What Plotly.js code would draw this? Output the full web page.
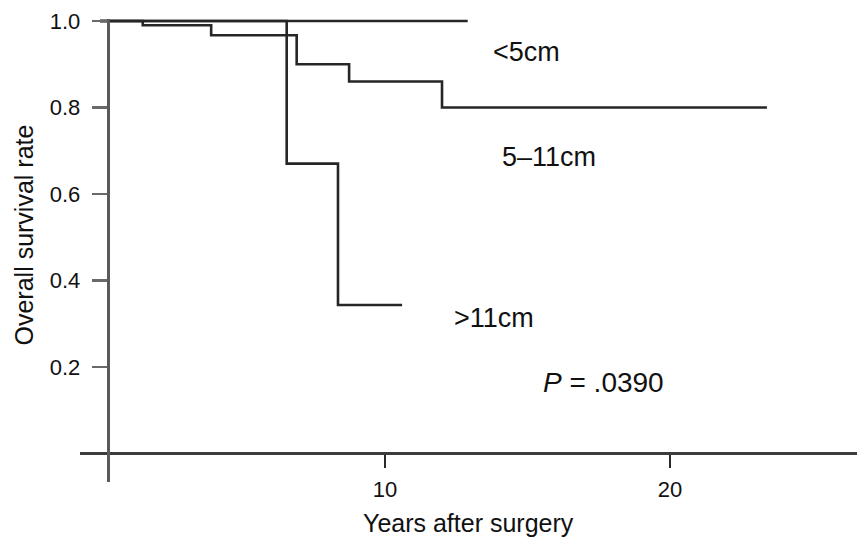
<!DOCTYPE html>
<html>
<head>
<meta charset="utf-8">
<script src="https://cdn.plot.ly/plotly-3.0.1.min.js"></script>
<style>html,body{margin:0;padding:0;background:#fff;}</style>
</head>
<body>
<div id="chart" style="width:857px;height:539px;"></div>
<script>
// Kaplan-Meier step data (years after surgery, overall survival rate)
var lt5_years = [0, 12.9];
var lt5_surv  = [1.0, 1.0];

var mid_years = [0, 1.5, 3.9, 6.9, 8.74, 12.0, 23.4];
var mid_surv  = [1.0, 0.99, 0.967, 0.90, 0.86, 0.80, 0.80];

var gt11_years = [0, 6.55, 8.35, 10.6];
var gt11_surv  = [1.0, 0.67, 0.343, 0.343];

var xTickVals = [10, 20];
var xTickText = ['10', '20'];
var yTickVals = [0.2, 0.4, 0.6, 0.8, 1.0];
var yTickText = ['0.2', '0.4', '0.6', '0.8', '1.0'];

var seriesLabels = ['<5cm', '5\u201311cm', '>11cm'];
var pText = '<i>P</i> = .0390';

var FONT = 'Liberation Sans, Arial, Helvetica, sans-serif';
var lineStyle = {color: '#262626', width: 2.6, shape: 'hv'};

var traces = [
  {x: lt5_years, y: lt5_surv, mode: 'lines', line: lineStyle, name: seriesLabels[0], hoverinfo: 'skip'},
  {x: mid_years, y: mid_surv, mode: 'lines', line: lineStyle, name: seriesLabels[1], hoverinfo: 'skip'},
  {x: gt11_years, y: gt11_surv, mode: 'lines', line: lineStyle, name: seriesLabels[2], hoverinfo: 'skip'}
];

var W = 857, H = 539;
var layout = {
  width: W, height: H,
  margin: {l: 0, r: 0, t: 0, b: 0, pad: 0},
  paper_bgcolor: '#fff', plot_bgcolor: '#fff',
  showlegend: false,
  font: {family: FONT, color: '#111'},
  xaxis: {
    domain: [80 / W, 1],
    range: [-0.702, 26.56],
    anchor: 'free',
    position: (H - 453.3) / H,
    showline: true, linecolor: '#3c3c3c', linewidth: 3,
    ticks: 'outside', ticklen: 13, tickwidth: 2.5, tickcolor: '#2a2a2a',
    tickvals: xTickVals, ticktext: xTickText,
    tickfont: {size: 22, family: FONT, color: '#111'},
    ticklabelstandoff: 2,
    showgrid: false, zeroline: false, automargin: false
  },
  yaxis: {
    domain: [(H - 482) / H, (H - 19) / H],
    range: [-0.0664, 1.0046],
    anchor: 'free',
    position: 107.7 / W,
    showline: true, linecolor: '#5a5a5a', linewidth: 3,
    ticks: 'outside', ticklen: 15, tickwidth: 2.5, tickcolor: '#6a6a6a',
    tickvals: yTickVals, ticktext: yTickText,
    tickfont: {size: 22, family: FONT, color: '#111'},
    ticklabelstandoff: 7,
    showgrid: false, zeroline: false, automargin: false
  },
  annotations: [
    {xref: 'paper', yref: 'paper', x: 468.5 / W, y: (H - 523) / H, text: 'Years after surgery',
     showarrow: false, font: {size: 25, family: FONT, color: '#111'}, xanchor: 'center', yanchor: 'middle'},
    {xref: 'paper', yref: 'paper', x: 23 / W, y: (H - 235.5) / H, text: 'Overall survival rate',
     showarrow: false, textangle: -90, font: {size: 25, family: FONT, color: '#111'}, xanchor: 'center', yanchor: 'middle'},
    {xref: 'x', yref: 'y', x: 14.95, y: 0.928, text: '&lt;5cm', showarrow: false,
     font: {size: 27, family: FONT, color: '#111'}},
    {xref: 'x', yref: 'y', x: 15.77, y: 0.685, text: '5\u201311cm', showarrow: false,
     font: {size: 27, family: FONT, color: '#111'}},
    {xref: 'x', yref: 'y', x: 13.82, y: 0.312, text: '&gt;11cm', showarrow: false,
     font: {size: 27, family: FONT, color: '#111'}},
    {xref: 'x', yref: 'y', x: 17.68, y: 0.163, text: pText, showarrow: false,
     font: {size: 28, family: FONT, color: '#111'}}
  ]
};

Plotly.newPlot('chart', traces, layout, {staticPlot: true, displayModeBar: false});
</script>
</body>
</html>
